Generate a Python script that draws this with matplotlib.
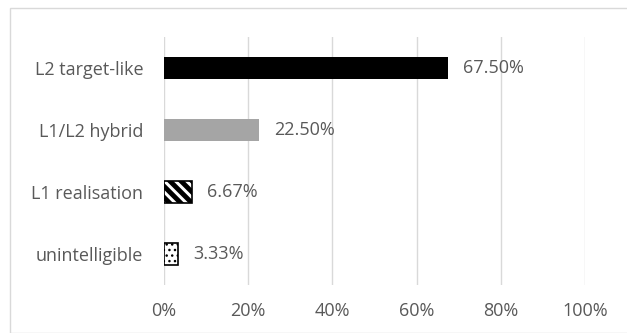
import matplotlib
matplotlib.use('Agg')
import matplotlib.pyplot as plt
import matplotlib.patches as mpatches
import matplotlib.ticker as mtick

# Data
categories = ['unintelligible', 'L1 realisation', 'L1/L2 hybrid', 'L2 target-like']
values = [3.33, 6.67, 22.50, 67.50]
value_labels = ['3.33%', '6.67%', '22.50%', '67.50%']
x_ticks = [0, 20, 40, 60, 80, 100]

plt.rcParams['font.family'] = ['Open Sans', 'DejaVu Sans']
plt.rcParams['hatch.color'] = 'black'

text_color = '#595959'
fontsize = 13

fig = plt.figure(figsize=(6.27, 3.33), dpi=100)
fig.patch.set_facecolor('white')

# outer chart border
border = mpatches.Rectangle((10/627, 0.0), 1.2, (333-8)/333, transform=fig.transFigure,
                            fill=False, edgecolor='#d9d9d9', lw=1)
fig.patches.append(border)

ax = fig.add_axes([164/627, 48/333, (585-164)/627, (285-37)/333])

faces = ['white', 'white', '#a5a5a5', 'black']
hatches = ['...', '\\\\\\', None, None]
hatch_lw = [1.0, 3.5, 1.0, 1.0]
edges = ['black', 'black', '#a5a5a5', 'black']

ypos = range(len(categories))
for y, v, fc, h, hl, ec in zip(ypos, values, faces, hatches, hatch_lw, edges):
    lw = 1.2 if h else 0
    with plt.rc_context({'hatch.linewidth': hl}):
        ax.barh(y, v, height=0.35, color=fc, hatch=h, edgecolor=ec, linewidth=lw, zorder=3)

for y, v, lab in zip(ypos, values, value_labels):
    ax.annotate(lab, (v, y), xytext=(11, 0), textcoords='offset points',
                va='center', ha='left', fontsize=fontsize, color=text_color)

ax.set_xlim(0, 100)
ax.set_ylim(-0.5, 3.5)
ax.set_xticks(x_ticks)
ax.xaxis.set_major_formatter(mtick.PercentFormatter(decimals=0))
ax.set_yticks(list(ypos))
ax.set_yticklabels(categories)
ax.tick_params(axis='both', length=0, labelsize=fontsize, colors=text_color)
ax.tick_params(axis='x', pad=12)
ax.tick_params(axis='y', pad=15)
ax.grid(axis='x', color='#d9d9d9', lw=1, zorder=0)
for s in ax.spines.values():
    s.set_visible(False)

fig.savefig('out.png', dpi=100)
